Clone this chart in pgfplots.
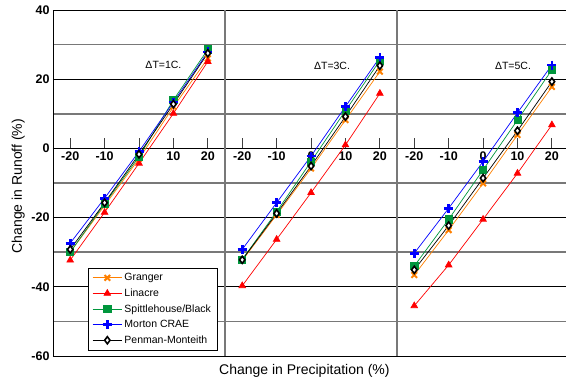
\documentclass[border=0pt]{standalone}
\usepackage{pgfplots}
\pgfplotsset{compat=1.18}
\usepackage{fontspec}
\setmainfont{Liberation Sans}
\definecolor{cOrange}{RGB}{255,128,0}
\definecolor{cRed}{RGB}{255,0,0}
\definecolor{cGreen}{RGB}{0,150,60}
\definecolor{cBlue}{RGB}{0,0,255}
\definecolor{cGrid}{RGB}{120,120,120}
\begin{document}
\begin{tikzpicture}
\begin{axis}[
  name=ax,
  scale only axis, width=513pt, height=346pt,
  xmin=-0.5, xmax=14.41, ymin=-60, ymax=40,
  axis x line*=middle, axis y line*=left,
  axis line style={black, line width=0.8pt},
  xtick={0,...,14},
  xticklabels={-20,-10,0,10,20,-20,-10,0,10,20,-20,-10,0,10,20},
  xticklabel style={font=\fontsize{12.5}{14}\selectfont\bfseries},
  ytick={-60,-40,...,40},
  yticklabels={-60,-40,-20,0,20,40},
  yticklabel style={font=\fontsize{12.5}{14}\selectfont\bfseries},
  minor ytick={-50,-30,-10,10,30},
  major tick length=0pt, minor tick length=0pt,
  ymajorgrids, yminorgrids,
  major grid style={black, line width=0.8pt},
  minor grid style={cGrid, line width=1.4pt},
  unbounded coords=jump,
  every axis y label/.style={at={(axis description cs:-0.0676,0.491)}, rotate=90, anchor=center},
  every axis x label/.style={at={(axis description cs:0.49,-0.0425)}, anchor=center},
  ylabel={Change in Runoff (\%)},
  xlabel={Change in Precipitation (\%)},
  label style={font=\fontsize{14}{16}\selectfont},
  legend style={at={(axis description cs:0.068,0.254)}, anchor=north west,
    draw=black, line width=0.6pt, fill=white, font=\fontsize{10.5}{12}\selectfont, row sep=2.6pt,
    inner xsep=4pt, inner ysep=3pt},
  legend cell align=left,
  legend image code/.code={\draw[mark repeat=2, mark phase=2] plot coordinates {(0cm,0cm) (0.52cm,0cm) (1.04cm,0cm)};},
]
\draw[cGrid, line width=1.4pt] (axis cs:4.5,-60) -- (axis cs:4.5,40);
\draw[cGrid, line width=1.4pt] (axis cs:9.5,-60) -- (axis cs:9.5,40);
\pgfplotsinvokeforeach{0,...,14}{\draw[black!75, line width=0.8pt] (axis cs:#1,0) -- (axis cs:#1,3);}

\addplot[cOrange, line width=0.7pt, mark=x, mark size=4pt, mark options={line width=2pt}] coordinates {
 (0,-30) (1,-16.5) (2,-3) (3,12) (4,26) (4.5,nan)
 (5,-32.4) (6,-19.2) (7,-5.8) (8,8.2) (9,22.2) (9.5,nan)
 (10,-36.6) (11,-23.6) (12,-10.1) (13,3.9) (14,17.8)};
\addlegendentry{Granger}
\addplot[cRed, line width=0.7pt, mark=triangle*, mark size=3.8pt, mark options={solid}] coordinates {
 (0,-32.3) (1,-18.5) (2,-4.3) (3,10.1) (4,25.1) (4.5,nan)
 (5,-39.7) (6,-26.3) (7,-12.8) (8,1.0) (9,15.9) (9.5,nan)
 (10,-45.5) (11,-33.7) (12,-20.5) (13,-7.2) (14,6.8)};
\addlegendentry{Linacre}
\addplot[cGreen, line width=0.7pt, mark=square*, mark size=3.6pt, mark options={fill=cGreen}] coordinates {
 (0,-30) (1,-16) (2,-2.4) (3,14) (4,28.6) (4.5,nan)
 (5,-32.1) (6,-18.3) (7,-3.8) (8,10.9) (9,25.4) (9.5,nan)
 (10,-34) (11,-20.5) (12,-6.2) (13,8.2) (14,22.7)};
\addlegendentry{Spittlehouse/Black}
\addplot[cBlue, line width=0.7pt, mark=+, mark size=4.5pt, mark options={line width=2.6pt}] coordinates {
 (0,-27.4) (1,-14.4) (2,-0.9) (3,13.4) (4,27.9) (4.5,nan)
 (5,-29.2) (6,-15.7) (7,-2.2) (8,12.1) (9,26.3) (9.5,nan)
 (10,-30.3) (11,-17.3) (12,-3.8) (13,10.3) (14,24.1)};
\addlegendentry{Morton CRAE}
\addplot[black, line width=0.7pt, mark=diamond*, mark size=3.6pt, mark options={fill=white, line width=1.6pt}] coordinates {
 (0,-29.2) (1,-15.7) (2,-1.7) (3,12.8) (4,27.5) (4.5,nan)
 (5,-32.2) (6,-18.8) (7,-5.1) (8,9.2) (9,23.9) (9.5,nan)
 (10,-35.1) (11,-22.3) (12,-8.6) (13,5.1) (14,19.3)};
\addlegendentry{Penman-Monteith}

\node[font=\fontsize{10.5}{12}\selectfont] at (axis cs:2.71,24.1) {ΔT=1C.};
\node[font=\fontsize{10.5}{12}\selectfont] at (axis cs:7.61,23.9) {ΔT=3C.};
\node[font=\fontsize{10.5}{12}\selectfont] at (axis cs:12.87,23.8) {ΔT=5C.};
\end{axis}
\pgfresetboundingbox
\path[use as bounding box] (ax.south west) ++(-53pt,-24pt) rectangle ++(566pt,380pt);
\end{tikzpicture}
\end{document}
